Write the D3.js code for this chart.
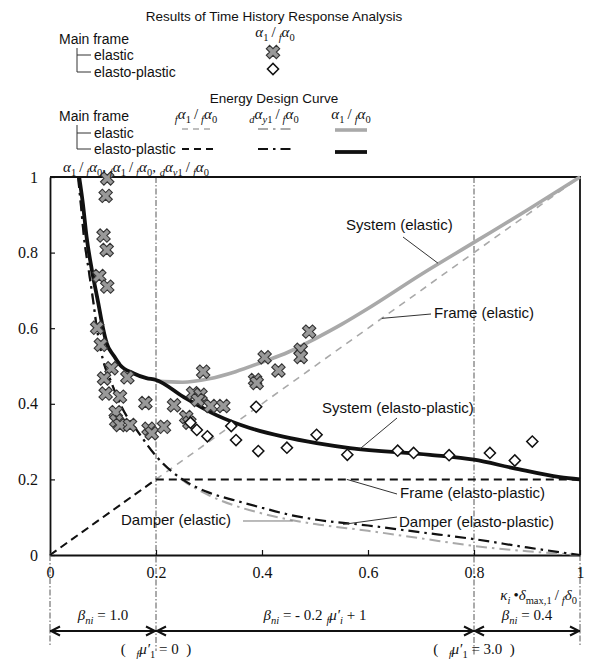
<!DOCTYPE html>
<html>
<head>
<meta charset="utf-8">
<script src="https://cdn.jsdelivr.net/npm/d3@7"></script>
<style>
  body { margin: 0; background: #fff; }
  svg { display: block; }
  .sans { font-family: "Liberation Sans", Arial, sans-serif; fill: #111; }
  .serif { font-family: "Liberation Serif", "Times New Roman", serif; fill: #111; }
</style>
</head>
<body>
<script>
// ---- axis ticks ----
const xTicks = [0, 0.2, 0.4, 0.6, 0.8, 1];
const yTicks = [0, 0.2, 0.4, 0.6, 0.8, 1];

// ---- energy design curves ----
// frame: f a1 / f a0
const frameElasticX = [0, 1];
const frameElasticY = [0, 1];
const framePlasticX = [0, 0.2, 1];
const framePlasticY = [0, 0.2, 0.2];

// damper: d ay1 / f a0
const damperPlasticX = [0.053, 0.058, 0.064, 0.073, 0.082, 0.088, 0.1, 0.114, 0.135, 0.168, 0.2, 0.25, 0.3, 0.35, 0.4, 0.45, 0.5, 0.6, 0.7, 0.8, 0.9, 1.0];
const damperPlasticY = [1.0, 0.93, 0.842, 0.754, 0.667, 0.604, 0.516, 0.463, 0.392, 0.322, 0.262, 0.2, 0.165, 0.144, 0.125, 0.107, 0.094, 0.078, 0.06, 0.042, 0.02, 0.0];
const damperElasticX = [0.053, 0.058, 0.064, 0.073, 0.082, 0.088, 0.1, 0.114, 0.135, 0.168, 0.2, 0.25, 0.3, 0.35, 0.4, 0.45, 0.5, 0.6, 0.7, 0.8, 0.9, 1.0];
const damperElasticY = [1.0, 0.93, 0.842, 0.754, 0.667, 0.604, 0.516, 0.463, 0.392, 0.322, 0.262, 0.198, 0.158, 0.13, 0.11, 0.094, 0.082, 0.064, 0.044, 0.024, 0.01, 0.0];

// system: a1 / f a0
const systemElasticX = [0.2, 0.25, 0.3, 0.35, 0.4, 0.45, 0.5, 0.55, 0.6, 0.7, 0.8, 0.9, 1.0];
const systemElasticY = [0.46, 0.457, 0.466, 0.485, 0.51, 0.537, 0.572, 0.61, 0.652, 0.742, 0.827, 0.912, 1.0];
const systemPlasticX = [0.055, 0.062, 0.069, 0.079, 0.091, 0.1, 0.107, 0.12, 0.132, 0.157, 0.182, 0.2, 0.251, 0.314, 0.377, 0.44, 0.503, 0.566, 0.717, 0.8, 0.874, 0.962, 1.0];
const systemPlasticY = [1.0, 0.93, 0.842, 0.754, 0.667, 0.6, 0.56, 0.528, 0.503, 0.481, 0.468, 0.463, 0.419, 0.37, 0.336, 0.313, 0.296, 0.283, 0.265, 0.252, 0.23, 0.206, 0.2];

// ---- time history response analysis, a1 / f a0 ----
const elasticX = [0.108, 0.105, 0.101, 0.107, 0.093, 0.108, 0.089, 0.096, 0.116, 0.102, 0.146, 0.105, 0.132, 0.180, 0.124, 0.125, 0.132, 0.151, 0.186, 0.192, 0.215, 0.234, 0.257, 0.263, 0.289, 0.270, 0.284, 0.279, 0.303, 0.327, 0.387, 0.390, 0.405, 0.431, 0.473, 0.473, 0.489];
const elasticY = [0.996, 0.950, 0.845, 0.807, 0.738, 0.710, 0.601, 0.556, 0.494, 0.467, 0.470, 0.427, 0.419, 0.402, 0.378, 0.355, 0.344, 0.344, 0.334, 0.322, 0.339, 0.396, 0.365, 0.350, 0.485, 0.428, 0.424, 0.410, 0.394, 0.394, 0.463, 0.455, 0.523, 0.488, 0.543, 0.524, 0.591];
const plasticX = [0.389, 0.265, 0.277, 0.297, 0.342, 0.351, 0.393, 0.447, 0.503, 0.561, 0.656, 0.686, 0.753, 0.830, 0.877, 0.910];
const plasticY = [0.392, 0.350, 0.331, 0.314, 0.341, 0.304, 0.275, 0.284, 0.318, 0.265, 0.276, 0.270, 0.264, 0.270, 0.250, 0.300];

// ---- zones of the damper coefficient ----
const zoneStart = [0, 0.2, 0.8];
const zoneEnd = [0.2, 0.8, 1];
const guideX = [0, 0.2, 0.8, 1];

const W = 589, H = 659;
const svg = d3.select("body").append("svg").attr("width", W).attr("height", H);

const x = d3.scaleLinear().domain([0, 1]).range([50, 580]);
const y = d3.scaleLinear().domain([0, 1]).range([555, 177]);

const GRAY = "#a9a9a9";
const DARK = "#111";
const SERIF = '"Liberation Serif", "Times New Roman", serif';

// text with italic letters and sub-/pre-subscripts
function rich(g, px, py, parts, size, anchor) {
  const t = g.append("text").attr("class", "serif")
    .attr("x", px).attr("y", py)
    .attr("font-size", size)
    .attr("text-anchor", anchor || "start");
  const shift = size * 0.26;
  let low = false;
  parts.forEach(([s, k]) => {
    const isSub = k[0] === "s";
    const ts = t.append("tspan").text(s);
    if (isSub && !low) { ts.attr("dy", shift); low = true; }
    else if (!isSub && low) { ts.attr("dy", -shift); low = false; }
    if (isSub) ts.attr("font-size", size * 0.7);
    if (k.indexOf("i") >= 0) ts.attr("font-style", "italic");
  });
  return t;
}
const SL = "\u2009/\u2009";
const ratioA1 = [["α", "i"], ["1", "s"], [SL, "n"], ["f", "si"], ["α", "i"], ["0", "s"]];
const ratioF1 = [["f", "si"], ["α", "i"], ["1", "s"], [SL, "n"], ["f", "si"], ["α", "i"], ["0", "s"]];
const ratioD1 = [["d", "si"], ["α", "i"], ["y", "si"], ["1", "s"], [SL, "n"], ["f", "si"], ["α", "i"], ["0", "s"]];

// ---- guide lines ----
const guideTop = { 0: y(0), 0.2: y(1), 0.8: y(1), 1: y(0) };
const guideBottom = { 0: 645, 0.2: 651, 0.8: 655, 1: 645 };
svg.append("g").selectAll("line").data(guideX).join("line")
  .attr("x1", d => x(d)).attr("x2", d => x(d))
  .attr("y1", d => guideTop[d]).attr("y2", d => guideBottom[d])
  .attr("stroke", "#444").attr("stroke-width", 0.9)
  .attr("stroke-dasharray", "6,2,1.5,2");

// ---- axes ----
const fmt = d3.format("~g");
const gx = svg.append("g").attr("transform", `translate(0,${y(0)})`)
  .call(d3.axisBottom(x).tickValues(xTicks).tickFormat(fmt).tickSizeInner(-5).tickSizeOuter(0).tickPadding(12));
const gy = svg.append("g").attr("transform", `translate(${x(0)},0)`)
  .call(d3.axisLeft(y).tickValues(yTicks).tickFormat(fmt).tickSizeInner(-5).tickSizeOuter(0).tickPadding(12));
[gx, gy].forEach(g => {
  g.attr("font-family", SERIF).attr("font-size", 16);
  g.select(".domain").attr("stroke", DARK).attr("stroke-width", 1.8);
  g.selectAll(".tick line").attr("stroke", DARK).attr("stroke-width", 1.2);
  g.selectAll(".tick text").style("font-family", SERIF).attr("font-size", 16).attr("fill", DARK);
});
// upper and right border
svg.append("path")
  .attr("d", `M${x(0)},${y(1)}H${x(1)}V${y(0)}`)
  .attr("fill", "none").attr("stroke", DARK).attr("stroke-width", 1.8);

// ---- curves ----
const smooth = d3.line().x(d => x(d[0])).y(d => y(d[1])).curve(d3.curveMonotoneX);
const straight = d3.line().x(d => x(d[0])).y(d => y(d[1]));
const curves = [
  { xs: frameElasticX, ys: frameElasticY, gen: straight, color: GRAY, w: 1.6, dash: "7,6" },
  { xs: damperElasticX, ys: damperElasticY, gen: smooth, color: GRAY, w: 2, dash: "11,5,2.5,5" },
  { xs: systemElasticX, ys: systemElasticY, gen: smooth, color: GRAY, w: 3.6, dash: null },
  { xs: framePlasticX, ys: framePlasticY, gen: straight, color: DARK, w: 2, dash: "8,5" },
  { xs: damperPlasticX, ys: damperPlasticY, gen: smooth, color: DARK, w: 2.2, dash: "11,5,2.5,5" },
  { xs: systemPlasticX, ys: systemPlasticY, gen: smooth, color: DARK, w: 3.8, dash: null }
];
svg.append("g").selectAll("path").data(curves).join("path")
  .attr("d", c => c.gen(d3.zip(c.xs, c.ys)))
  .attr("fill", "none")
  .attr("stroke", c => c.color)
  .attr("stroke-width", c => c.w)
  .attr("stroke-dasharray", c => c.dash);

// ---- analysis results ----
const cross = d3.symbol(d3.symbolCross, 112);
const diamond = d3.symbol(d3.symbolSquare, 62);
svg.append("g").selectAll("path").data(d3.zip(elasticX, elasticY)).join("path")
  .attr("d", cross)
  .attr("transform", d => `translate(${x(d[0])},${y(d[1])}) rotate(45)`)
  .attr("fill", "#999").attr("stroke", "#333").attr("stroke-width", 1.1);
svg.append("g").selectAll("path").data(d3.zip(plasticX, plasticY)).join("path")
  .attr("d", diamond)
  .attr("transform", d => `translate(${x(d[0])},${y(d[1])}) rotate(45)`)
  .attr("fill", "#fff").attr("stroke", DARK).attr("stroke-width", 1.5);

// ---- curve annotations ----
const notes = [
  { text: "System (elastic)", tx: 346, ty: 230, from: [403, 237], to: [0.732, 0.772], color: "#333" },
  { text: "Frame (elastic)", tx: 434, ty: 318, from: [431, 314], to: [0.626, 0.626], color: "#333" },
  { text: "System (elasto-plastic)", tx: 322, ty: 413, from: [397, 418], to: [0.585, 0.281], color: "#333" },
  { text: "Frame (elasto-plastic)", tx: 400, ty: 498, from: [397, 494], to: [0.56, 0.2], color: "#333" },
  { text: "Damper (elasto-plastic)", tx: 399, ty: 527, from: [397, 517], to: [0.553, 0.081], color: "#333" },
  { text: "Damper (elastic)", tx: 121, ty: 525, from: [243, 521], to: [0.458, 0.09], color: "#777" }
];
const gn = svg.append("g");
notes.forEach(n => {
  gn.append("line")
    .attr("x1", n.from[0]).attr("y1", n.from[1])
    .attr("x2", x(n.to[0])).attr("y2", y(n.to[1]))
    .attr("stroke", n.color).attr("stroke-width", 1);
  gn.append("text").attr("class", "sans").attr("font-size", 15)
    .attr("x", n.tx).attr("y", n.ty).text(n.text);
});

// ---- axis titles ----
rich(svg, 63, 172, [...ratioA1, [", ", "n"], ...ratioF1, [", ", "n"], ...ratioD1], 15);
rich(svg, 577, 600, [["κ", "i"], ["i", "si"], ["\u2009•", "n"], ["δ", "i"], ["max,1", "s"], [SL, "n"], ["f", "si"], ["δ", "i"], ["0", "s"]], 15, "end");

// ---- zones below the axis ----
const AY = 631;
const ga = svg.append("g");
ga.append("line").attr("x1", x(0)).attr("x2", x(1)).attr("y1", AY).attr("y2", AY)
  .attr("stroke", DARK).attr("stroke-width", 2);
zoneStart.forEach((a, i) => {
  const b = zoneEnd[i];
  ga.append("path")
    .attr("d", `M${x(a) + 10},${AY - 4.5}L${x(a) + 1},${AY}L${x(a) + 10},${AY + 4.5}`)
    .attr("fill", "none").attr("stroke", DARK).attr("stroke-width", 2);
  ga.append("path")
    .attr("d", `M${x(b) - 10},${AY - 4.5}L${x(b) - 1},${AY}L${x(b) - 10},${AY + 4.5}`)
    .attr("fill", "none").attr("stroke", DARK).attr("stroke-width", 2);
});
const betaLabels = [
  [["β", "i"], ["ni", "si"], [" = 1.0", "n"]],
  [["β", "i"], ["ni", "si"], [" = - 0.2 ", "n"], ["f", "si"], ["μ′", "i"], ["i", "si"], [" + 1", "n"]],
  [["β", "i"], ["ni", "si"], [" = 0.4", "n"]]
];
zoneStart.forEach((a, i) => {
  rich(svg, x((a + zoneEnd[i]) / 2), 620, betaLabels[i], 15, "middle");
});
rich(svg, x(0.2), 654, [["(\u2002\u2009", "n"], ["f", "si"], ["μ′", "i"], ["1", "s"], [" = 0\u2002)", "n"]], 15, "middle");
rich(svg, x(0.8), 654, [["(\u2002\u2009", "n"], ["f", "si"], ["μ′", "i"], ["1", "s"], [" = 3.0\u2002)", "n"]], 15, "middle");

// ---- legend ----
const lg = svg.append("g");
function tree(yTop, y1, y2) {
  lg.append("path")
    .attr("d", `M77,${yTop}V${y2}H91M77,${y1}H91`)
    .attr("fill", "none").attr("stroke", "#333").attr("stroke-width", 1);
}
function label(t, px, py, size, anchor) {
  lg.append("text").attr("class", "sans").attr("font-size", size)
    .attr("text-anchor", anchor || "start").attr("x", px).attr("y", py).text(t);
}
label("Results of Time History Response Analysis", 274, 21, 13.5, "middle");
label("Main frame", 59, 44, 14);
label("elastic", 94, 60, 14);
label("elasto-plastic", 94, 77, 14);
tree(48, 55, 72);
rich(lg, 275, 37, ratioA1, 15, "middle");
lg.append("path").attr("d", cross).attr("transform", "translate(273,52) rotate(45)")
  .attr("fill", "#999").attr("stroke", "#333").attr("stroke-width", 1.1);
lg.append("path").attr("d", diamond).attr("transform", "translate(273,69) rotate(45)")
  .attr("fill", "#fff").attr("stroke", DARK).attr("stroke-width", 1.5);

label("Energy Design Curve", 274, 103, 13.5, "middle");
label("Main frame", 59, 121, 14);
label("elastic", 94, 138, 14);
label("elasto-plastic", 94, 154, 14);
tree(125, 133, 149);
rich(lg, 196, 119, ratioF1, 15, "middle");
rich(lg, 274, 119, ratioD1, 15, "middle");
rich(lg, 351, 119, ratioA1, 15, "middle");
const samples = [
  { x1: 182, x2: 215, yy: 129, color: GRAY, w: 1.6, dash: "6,5" },
  { x1: 182, x2: 215, yy: 149, color: DARK, w: 2, dash: "7,5" },
  { x1: 258, x2: 292, yy: 129, color: GRAY, w: 2, dash: "10,5,2.5,5" },
  { x1: 258, x2: 292, yy: 149, color: DARK, w: 2.2, dash: "10,5,2.5,5" },
  { x1: 335, x2: 367, yy: 130, color: GRAY, w: 3.6, dash: null },
  { x1: 335, x2: 367, yy: 152, color: DARK, w: 3.8, dash: null }
];
lg.selectAll("line.sample").data(samples).join("line").attr("class", "sample")
  .attr("x1", d => d.x1).attr("x2", d => d.x2).attr("y1", d => d.yy).attr("y2", d => d.yy)
  .attr("stroke", d => d.color).attr("stroke-width", d => d.w).attr("stroke-dasharray", d => d.dash);
</script>
</body>
</html>
